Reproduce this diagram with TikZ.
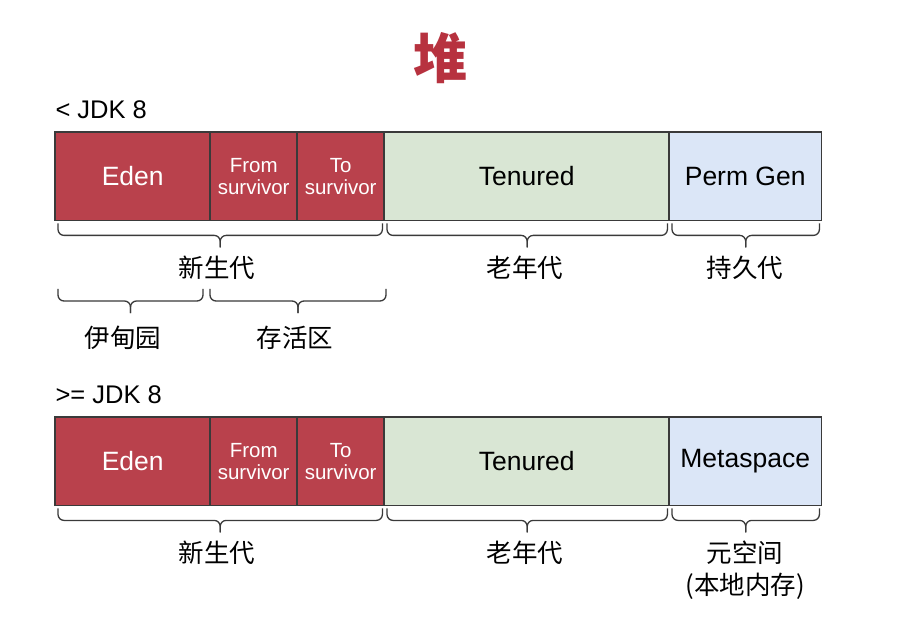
\documentclass[tikz,border=0pt]{standalone}
\usepackage{fontspec}
\setmainfont{Liberation Sans}
\newfontfamily\cjk{Noto Sans CJK SC}
\usetikzlibrary{calc}
\definecolor{heapred}{HTML}{B9414C}
\definecolor{titlered}{HTML}{B7323F}
\definecolor{oldgreen}{HTML}{D9E6D4}
\definecolor{permblue}{HTML}{DBE6F7}
\definecolor{edge}{HTML}{3A3A3A}
\newcommand\hbrc[2]{%
  \draw[brc] (#1) -- ([yshift=-12pt]#1) -- ([yshift=-12pt]$(#1)!0.5!(#2)$) -- ([yshift=-24pt]$(#1)!0.5!(#2)$);
  \draw[brc] (#2) -- ([yshift=-12pt]#2) -- ([yshift=-12pt]$(#1)!0.5!(#2)$) -- ([yshift=-24pt]$(#1)!0.5!(#2)$);}
\begin{document}
\begin{tikzpicture}[x=1pt,y=-1pt,
  seg/.style={anchor=north west,minimum height=88pt,inner sep=0pt,align=center,font=\fontsize{26.5}{30}\selectfont},
  young/.style={seg,fill=heapred,text=white},
  small/.style={font=\fontsize{20.5}{23}\selectfont},
  old/.style={seg,fill=oldgreen,text=black},
  perm/.style={seg,fill=permblue,text=black},
  frame/.style={draw=edge,line width=1.3pt},
  brc/.style={draw=edge,line width=1.3pt,rounded corners=6pt},
  lab/.style={font=\cjk\fontsize{25.5}{30}\selectfont,align=center},
  head/.style={font=\fontsize{25.5}{30}\selectfont,anchor=west}]
\useasboundingbox (0,0) rectangle (910,628);
\fill[white] (0,0) rectangle (910,628);
\node[font=\cjk\bfseries\fontsize{54}{58}\selectfont,text=titlered] (title) at (440,58) {堆};
% row 1
\node[head] (h1) at (52,110) {< JDK 8};
\node[young,minimum width=155pt] (eden1) at (55,132) {Eden};
\node[young,small,minimum width=87pt] (from1) at (210,132) {From\\[-1pt]survivor};
\node[young,small,minimum width=87pt] (to1) at (297,132) {To\\[-1pt]survivor};
\node[old,minimum width=285pt] (ten1) at (384,132) {Tenured};
\node[perm,minimum width=152pt] (perm1) at (669,132) {Perm Gen};
\coordinate (a1) at ([xshift=3pt,yshift=-3pt]eden1.south west);
\coordinate (a2) at ([xshift=-2pt,yshift=-3pt]to1.south east);
\coordinate (a3) at ([xshift=3pt,yshift=-3pt]ten1.south west);
\coordinate (a4) at ([xshift=-2pt,yshift=-3pt]ten1.south east);
\coordinate (a5) at ([xshift=3pt,yshift=-3pt]perm1.south west);
\coordinate (a6) at ([xshift=-2pt,yshift=-3pt]perm1.south east);
\hbrc{a1}{a2}
\hbrc{a3}{a4}
\hbrc{a5}{a6}
\node[lab] (xsd1) at (217,268) {新生代};
\node[lab] (lnd1) at (525,268) {老年代};
\node[lab] (cjd1) at (745,268) {持久代};
\coordinate (b2l) at (58,289);
\coordinate (b2m) at (203,289);
\coordinate (b3l) at (210,289);
\coordinate (b3r) at (386,289);
\hbrc{b2l}{b2m}
\hbrc{b3l}{b3r}
\node[lab] (ydy) at (123,338) {伊甸园};
\node[lab] (chq) at (295,338) {存活区};
% row 2
\node[head] (h2) at (52,395) {>= JDK 8};
\node[young,minimum width=155pt] (eden2) at (55,417) {Eden};
\node[young,small,minimum width=87pt] (from2) at (210,417) {From\\[-1pt]survivor};
\node[young,small,minimum width=87pt] (to2) at (297,417) {To\\[-1pt]survivor};
\node[old,minimum width=285pt] (ten2) at (384,417) {Tenured};
\node[perm,minimum width=152pt] (meta2) at (669,417) {Metaspace};
\coordinate (c1) at ([xshift=3pt,yshift=-3pt]eden2.south west);
\coordinate (c2) at ([xshift=-2pt,yshift=-3pt]to2.south east);
\coordinate (c3) at ([xshift=3pt,yshift=-3pt]ten2.south west);
\coordinate (c4) at ([xshift=-2pt,yshift=-3pt]ten2.south east);
\coordinate (c5) at ([xshift=3pt,yshift=-3pt]meta2.south west);
\coordinate (c6) at ([xshift=-2pt,yshift=-3pt]meta2.south east);
\hbrc{c1}{c2}
\hbrc{c3}{c4}
\hbrc{c5}{c6}
\node[lab] (xsd2) at (217,553) {新生代};
\node[lab] (lnd2) at (525,553) {老年代};
\node[lab] (ykj) at (745,553) {元空间};
\node[lab] (bdnc) at (745,586) {(本地内存)};
% frames on top of fills
\foreach \n in {eden1,from1,to1,ten1,perm1,eden2,from2,to2,ten2,meta2}
  \draw[frame] (\n.south west) rectangle (\n.north east);
\end{tikzpicture}
\end{document}
